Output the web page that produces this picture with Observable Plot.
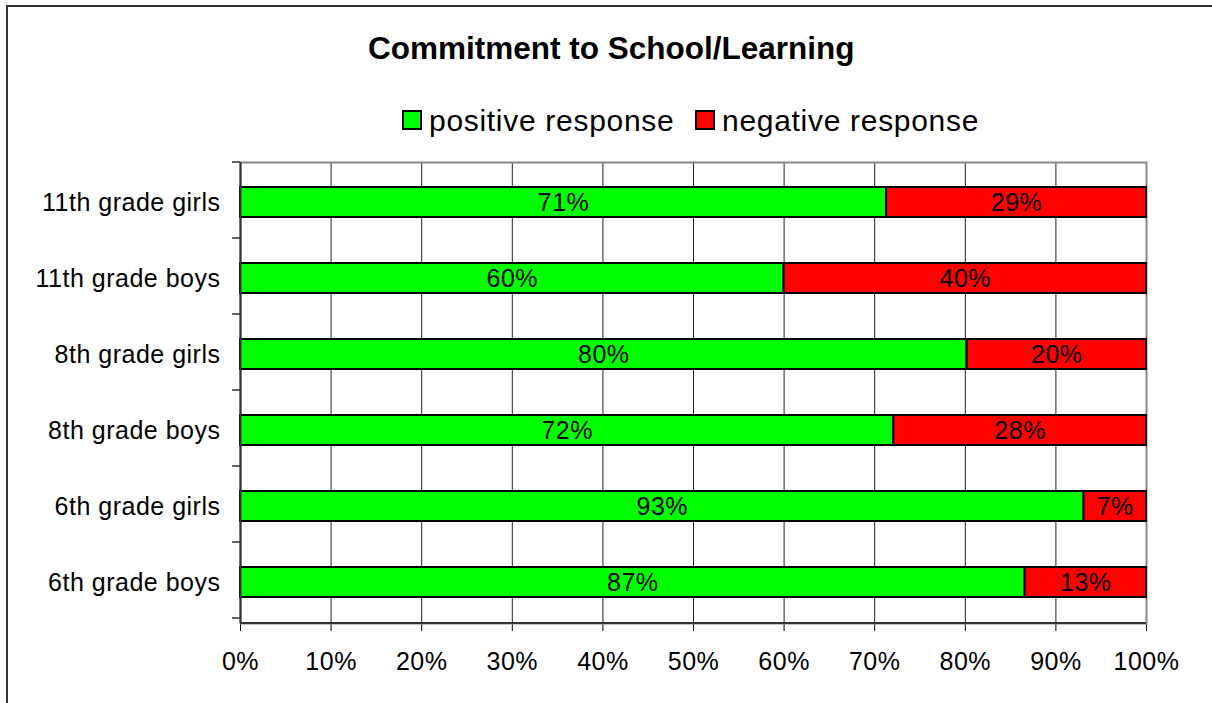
<!DOCTYPE html>
<html>
<head>
<meta charset="utf-8">
<script src="https://cdn.jsdelivr.net/npm/d3@7"></script>
<script src="https://cdn.jsdelivr.net/npm/@observablehq/plot@0.6"></script>
<style>
  html, body { margin: 0; padding: 0; background: #fff; }
  body { width: 1212px; height: 703px; position: relative; overflow: hidden; font-family: "Liberation Sans", Arial, sans-serif; }
  #border { position: absolute; left: 6px; top: 5px; width: 1400px; height: 900px; border: 2px solid #333; box-sizing: border-box; }
  #title { position: absolute; left: 368px; top: 33px; font-size: 31.5px; line-height: 31.5px; font-weight: bold; color: #000; white-space: nowrap; }
  .sw { position: absolute; top: 110px; width: 20px; height: 20px; border: 2px solid #000; box-sizing: border-box; }
  .lt { position: absolute; top: 106px; font-size: 30px; line-height: 30px; letter-spacing: 0.7px; color: #000; white-space: nowrap; }
  #chart { position: absolute; left: 0; top: 140px; }
  #chart svg text { letter-spacing: 0.5px; }
</style>
</head>
<body>
<div id="border"></div>
<div id="title"></div>
<div id="legend"></div>
<div id="chart"></div>
<script>
const title = "Commitment to School/Learning";
const categories = ["11th grade girls", "11th grade boys", "8th grade girls", "8th grade boys", "6th grade girls", "6th grade boys"];
const seriesNames = ["positive response", "negative response"];
const seriesColors = ["#00ff00", "#ff0000"];
const positive = [71.3, 60.0, 80.2, 72.1, 93.1, 86.6];
const negative = [28.7, 40.0, 19.8, 27.9, 6.9, 13.4];
const positiveLabels = ["71%", "60%", "80%", "72%", "93%", "87%"];
const negativeLabels = ["29%", "40%", "20%", "28%", "7%", "13%"];
const xTicks = [0, 10, 20, 30, 40, 50, 60, 70, 80, 90, 100];

document.getElementById("title").textContent = title;

// legend
const legend = document.getElementById("legend");
const swLeft = [402, 695];
const txtLeft = [429, 722];
seriesNames.forEach((name, i) => {
  const sw = document.createElement("div");
  sw.className = "sw";
  sw.style.left = swLeft[i] + "px";
  sw.style.background = seriesColors[i];
  legend.appendChild(sw);
  const t = document.createElement("div");
  t.className = "lt";
  t.style.left = txtLeft[i] + "px";
  t.textContent = name;
  legend.appendChild(t);
});

const rows = [];
categories.forEach((c, i) => {
  rows.push({group: c, type: seriesNames[0], value: positive[i], label: positiveLabels[i]});
  rows.push({group: c, type: seriesNames[1], value: negative[i], label: negativeLabels[i]});
});

const chart = Plot.plot({
  width: 1212,
  height: 563,
  marginTop: 22,
  marginBottom: 80,
  marginLeft: 240,
  marginRight: 66,
  style: {fontSize: "25px", fontFamily: "'Liberation Sans', Arial, sans-serif", color: "#000", background: "transparent"},
  x: {domain: [0, 100], ticks: xTicks, tickFormat: d => d + "%", tickSize: 8, tickPadding: 21, label: null},
  y: {domain: categories, padding: 0.6, paddingOuter: 0.3, align: 0.5, tickSize: 0, tickPadding: 20, label: null},
  color: {domain: seriesNames, range: seriesColors},
  marks: [
    Plot.ruleX(xTicks, {stroke: "#222", strokeWidth: 1}),
    Plot.frame({stroke: "#888", strokeWidth: 2}),
    Plot.barX(rows, Plot.stackX({x: "value", y: "group", fill: "type", stroke: "#000", strokeWidth: 2, insetTop: 0, insetBottom: 0})),
    Plot.text(rows, Plot.stackX({x: "value", y: "group", z: "type", text: "label", fontSize: 25, fill: "#000"})),
    Plot.ruleX([0], {stroke: "#333", strokeWidth: 2})
  ]
});

document.getElementById("chart").appendChild(chart);

// axis line at bottom and category boundary ticks on the left, from the plot's scales
const xs = chart.scale("x");
const ys = chart.scale("y");
const svg = d3.select(chart.tagName.toLowerCase() === "svg" ? chart : chart.querySelector("svg"));
const x0 = xs.apply(0), x1 = xs.apply(100);
const yTop = ys.range[0], yBot = ys.range[1];
svg.append("line")
  .attr("x1", x0).attr("x2", x1).attr("y1", yBot).attr("y2", yBot)
  .attr("stroke", "#333").attr("stroke-width", 2);
const bounds = d3.range(categories.length + 1).map(i => yTop + i * ys.step);
svg.append("g").selectAll("line").data(bounds).join("line")
  .attr("x1", x0 - 8).attr("x2", x0).attr("y1", d => d).attr("y2", d => d)
  .attr("stroke", "#333").attr("stroke-width", 1.5);
</script>
</body>
</html>
